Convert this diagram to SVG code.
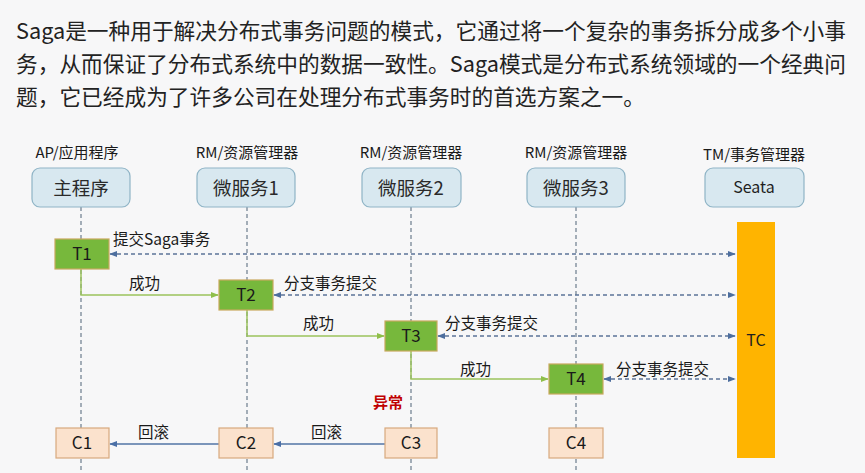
<svg xmlns="http://www.w3.org/2000/svg" width="865" height="473" viewBox="0 0 865 473">
<style>
  text { font-family: "Noto Sans CJK SC", "Noto Sans", sans-serif; fill: #1f1f1f; }
  .para { font-size: 21.7px; fill: #222; }
  .role { font-size: 15px; text-anchor: middle; fill: #1a1a1a; }
  .hbox { fill: #d8e8f0; stroke: #8fb4c6; stroke-width: 1.2; }
  .htxt { font-size: 18.5px; text-anchor: middle; fill: #2a2a2a; }
  .life { stroke: #6c7c8e; stroke-width: 1.2; stroke-dasharray: 4 3; fill: none; }
  .msg { stroke: #5c7498; stroke-width: 1.3; stroke-dasharray: 4 3; fill: none; }
  .ok { stroke: #9cc45c; stroke-width: 1.5; fill: none; }
  .back { stroke: #5274a6; stroke-width: 1.5; fill: none; }
  .tbox { fill: #77b83c; stroke: #c9a85e; stroke-width: 1.2; }
  .cbox { fill: #fbe2cd; stroke: #d8a97e; stroke-width: 1.2; }
  .btxt { font-size: 17px; text-anchor: middle; fill: #1a1a1a; }
  .lbl { font-size: 15.5px; fill: #1a1a1a; }
</style>
<defs>
  <marker id="ab" viewBox="0 0 10 10" refX="9" refY="5" markerWidth="8" markerHeight="8" markerUnits="userSpaceOnUse" orient="auto-start-reverse">
    <path d="M0 1 L10 5 L0 9 z" fill="#4d6e9e"/>
  </marker>
  <marker id="ag" viewBox="0 0 10 10" refX="9" refY="5" markerWidth="8" markerHeight="8" markerUnits="userSpaceOnUse" orient="auto">
    <path d="M0 1 L10 5 L0 9 z" fill="#8fbf4a"/>
  </marker>
  <marker id="ak" viewBox="0 0 10 10" refX="9" refY="5" markerWidth="8" markerHeight="8" markerUnits="userSpaceOnUse" orient="auto">
    <path d="M0 1 L10 5 L0 9 z" fill="#4a6fa6"/>
  </marker>
</defs>
<rect x="0" y="0" width="865" height="473" fill="#f7f7f8"/>

<g id="intro">
  <text class="para" x="16" y="39">Saga是一种用于解决分布式事务问题的模式，它通过将一个复杂的事务拆分成多个小事</text>
  <text class="para" x="16" y="72">务，从而保证了分布式系统中的数据一致性。Saga模式是分布式系统领域的一个经典问</text>
  <text class="para" x="16" y="105">题，它已经成为了许多公司在处理分布式事务时的首选方案之一。</text>
</g>

<g id="lifelines">
  <line class="life" x1="81" y1="207" x2="81" y2="473"/>
  <line class="life" x1="247" y1="207" x2="247" y2="473"/>
  <line class="life" x1="411" y1="207" x2="411" y2="473"/>
  <line class="life" x1="576" y1="207" x2="576" y2="473"/>
</g>

<g id="connectors">
  <line class="msg" x1="110" y1="254" x2="735" y2="254" marker-start="url(#ab)" marker-end="url(#ab)"/>
  <line class="msg" x1="274" y1="295" x2="735" y2="295" marker-start="url(#ab)" marker-end="url(#ab)"/>
  <line class="msg" x1="438" y1="336" x2="735" y2="336" marker-start="url(#ab)" marker-end="url(#ab)"/>
  <line class="msg" x1="604" y1="379" x2="735" y2="379" marker-start="url(#ab)" marker-end="url(#ab)"/>
  <path class="ok" d="M81 269 V295 H218" marker-end="url(#ag)"/>
  <path class="ok" d="M247 310 V336 H384" marker-end="url(#ag)"/>
  <path class="ok" d="M411 351 V379 H548" marker-end="url(#ag)"/>
  <line class="back" x1="385" y1="444" x2="274" y2="444" marker-end="url(#ak)"/>
  <line class="back" x1="219" y1="444" x2="110" y2="444" marker-end="url(#ak)"/>
  <text class="lbl" x="113" y="245">提交Saga事务</text>
  <text class="lbl" x="284" y="289">分支事务提交</text>
  <text class="lbl" x="445" y="329">分支事务提交</text>
  <text class="lbl" x="616" y="375">分支事务提交</text>
  <text class="lbl" x="129" y="289">成功</text>
  <text class="lbl" x="303" y="329">成功</text>
  <text class="lbl" x="460" y="375">成功</text>
  <text class="lbl" x="138" y="438">回滚</text>
  <text class="lbl" x="311" y="438">回滚</text>
</g>

<g id="roles">
  <text class="role" x="77" y="158">AP/应用程序</text>
  <text class="role" x="247" y="158">RM/资源管理器</text>
  <text class="role" x="411" y="158">RM/资源管理器</text>
  <text class="role" x="576" y="158">RM/资源管理器</text>
  <text class="role" x="754" y="160">TM/事务管理器</text>
</g>

<g id="main"><rect class="hbox" x="32" y="168" width="98" height="39" rx="8"/><text class="htxt" x="81" y="195">主程序</text></g>
<g id="ms1"><rect class="hbox" x="197" y="168" width="98" height="39" rx="8"/><text class="htxt" x="246" y="195">微服务1</text></g>
<g id="ms2"><rect class="hbox" x="362" y="168" width="99" height="39" rx="8"/><text class="htxt" x="411" y="195">微服务2</text></g>
<g id="ms3"><rect class="hbox" x="527" y="168" width="98" height="39" rx="8"/><text class="htxt" x="576" y="195">微服务3</text></g>
<g id="seata"><rect class="hbox" x="705" y="168" width="99" height="39" rx="8"/><text x="754" y="193" font-size="16" text-anchor="middle" fill="#222">Seata</text></g>

<g id="tc"><rect x="737" y="222" width="38" height="236" fill="#ffb400"/><text x="756" y="346" font-size="16" text-anchor="middle" fill="#222">TC</text></g>

<g id="t1"><rect class="tbox" x="55" y="239" width="54" height="30"/><text class="btxt" x="82" y="260">T1</text></g>
<g id="t2"><rect class="tbox" x="219" y="280" width="54" height="30"/><text class="btxt" x="246" y="301">T2</text></g>
<g id="t3"><rect class="tbox" x="385" y="321" width="52" height="30"/><text class="btxt" x="411" y="342">T3</text></g>
<g id="t4"><rect class="tbox" x="549" y="364" width="54" height="30"/><text class="btxt" x="576" y="385">T4</text></g>

<g id="c1"><rect class="cbox" x="56" y="428" width="53" height="30"/><text class="btxt" x="82" y="449">C1</text></g>
<g id="c2"><rect class="cbox" x="219" y="428" width="54" height="30"/><text class="btxt" x="246" y="449">C2</text></g>
<g id="c3"><rect class="cbox" x="385" y="428" width="52" height="30"/><text class="btxt" x="411" y="449">C3</text></g>
<g id="c4"><rect class="cbox" x="549" y="428" width="54" height="30"/><text class="btxt" x="576" y="449">C4</text></g>

<g id="error"><text x="373" y="408" font-size="15" font-weight="bold" style="fill:#c00000">异常</text></g>
</svg>
